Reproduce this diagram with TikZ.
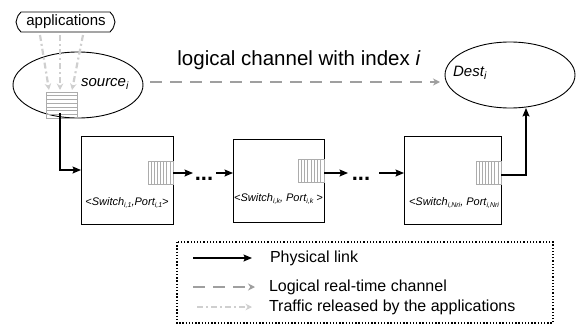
\documentclass[tikz,border=0pt]{standalone}
\usepackage{fontspec}
\setmainfont{Liberation Sans}
\usetikzlibrary{shapes.geometric,arrows.meta,calc}
\newcommand{\mysub}[1]{\raisebox{-0.25ex}{\fontsize{7}{8}\selectfont #1}}
\begin{document}
\begin{tikzpicture}[x=1pt,y=-1pt,
  every node/.style={inner sep=0pt, outer sep=0pt},
  ell/.style={draw, ellipse, line width=0.9pt, minimum width=130pt, minimum height=66pt},
  swbox/.style={draw, line width=1pt},
  qbox/.style={draw=gray!65, line width=0.8pt},
  qline/.style={draw=gray!65, line width=0.7pt},
  phys/.style={line width=1.3pt, -{Stealth[length=8.5pt,width=7pt,inset=1.5pt]}},
  logic/.style={draw=gray!75, line width=2.8pt, dash pattern=on 12pt off 8pt, -{Stealth[length=7pt,width=7pt]}},
  traffic/.style={draw=gray!38, line width=2.2pt, dash pattern=on 6pt off 3pt on 2pt off 3pt, -{Stealth[length=6.5pt,width=6.5pt]}},
  lbl/.style={font=\fontsize{15}{18}\selectfont\itshape},
  swlbl/.style={font=\fontsize{11}{13}\selectfont\itshape},
  leg/.style={font=\fontsize{16}{19}\selectfont, anchor=west},
  dotsn/.style={font=\fontsize{22}{24}\selectfont\bfseries, anchor=base},
]
\useasboundingbox (0,0) rectangle (576,324);

% applications
\node[font=\fontsize{15}{18}\selectfont] (app) at (66,22) {applications};
\draw[line width=0.9pt] (21,12) -- (110,12) .. controls (113,15) .. (115,22) .. controls (113,29) .. (110,32)
  -- (21,32) .. controls (18,29) .. (16,22) .. controls (18,15) .. (21,12);

% source
\node[ell] (src) at (78,85) {};
\node[lbl] (srclbl) at (105,84) {source\textsubscript{i}};
\node[qbox, minimum width=31pt, minimum height=26pt] (sq) at (61.5,105) {};
\foreach \k in {1,...,6} \draw[qline] (46,{92+\k*26/7}) -- (77,{92+\k*26/7});

% traffic arrows
\coordinate (a1s) at (40,35); \coordinate (a1e) at (49,90);
\coordinate (a2s) at (60,35); \coordinate (a2e) at (60,90);
\coordinate (a3s) at (83,35); \coordinate (a3e) at (72,90);
\draw[traffic] (a1s) -- (a1e);
\draw[traffic] (a2s) -- (a2e);
\draw[traffic] (a3s) -- (a3e);

% destination
\node[ell] (dst) at (510,75) {};
\node[lbl] (dstlbl) at (470,73) {Dest\textsubscript{i}};

% logical channel
\node[font=\fontsize{20.5}{24}\selectfont] (lc) at (299,60) {logical channel with index \textit{i}};
\coordinate (lcs) at (150,82); \coordinate (lce) at (440,82);
\draw[logic] (lcs) -- (lce);

% switches
\node[swbox, minimum width=92pt, minimum height=88pt] (sw1) at (127,180) {};
\node[swbox, minimum width=91pt, minimum height=83pt] (sw2) at (278.5,180.5) {};
\node[swbox, minimum width=97pt, minimum height=88pt] (sw3) at (452.5,180) {};
\node[swlbl] (l1) at (127,203) {<Switch\mysub{i,1},Port\mysub{i,1}>};
\node[swlbl] (l2) at (278.5,199) {<Switch\mysub{i,k}, Port\mysub{i,k} >};
\node[swlbl] (l3) at (454,203) {<Switch\mysub{i,Nri}, Port\mysub{i,Nri}};

% port queues
\node[qbox, minimum width=25pt, minimum height=23pt] (q1) at (160.5,172.5) {};
\node[qbox, minimum width=26pt, minimum height=23pt] (q2) at (311,170.5) {};
\node[qbox, minimum width=25pt, minimum height=23pt] (q3) at (488.5,172.5) {};
\foreach \k in {1,...,7} {
  \draw[qline] ({148+\k*25/8},161) -- ({148+\k*25/8},184);
  \draw[qline] ({298+\k*26/8},159) -- ({298+\k*26/8},182);
  \draw[qline] ({476+\k*25/8},161) -- ({476+\k*25/8},184);
}

% physical links
\coordinate (s0) at (60,113);
\coordinate (in1) at (81,170);
\draw[phys] (s0) |- (in1);
\coordinate (o1) at (173,173); \coordinate (o1e) at (193,173);
\node[dotsn] (d1) at (204,180) {...};
\coordinate (i2s) at (216,173); \coordinate (in2) at (233,173);
\draw[phys] (o1) -- (o1e);
\draw[phys] (i2s) -- (in2);
\coordinate (o2) at (324,173); \coordinate (o2e) at (348,173);
\node[dotsn] (d2) at (361,180) {...};
\coordinate (i3s) at (379,173); \coordinate (in3) at (404,173);
\draw[phys] (o2) -- (o2e);
\draw[phys] (i3s) -- (in3);
\coordinate (o3) at (501,175); \coordinate (dstin) at (526,108);
\draw[phys] (o3) -| (dstin);

% legend
\draw[line width=1.3pt, dash pattern=on 1.3pt off 1.9pt] (177,242) rectangle (553,323);
\coordinate (g1s) at (193,258); \coordinate (g1e) at (252,258);
\draw[phys] (g1s) -- (g1e);
\node[leg] (t1) at (270,258) {Physical link};
\coordinate (g2s) at (193,287); \coordinate (g2e) at (255,287);
\draw[logic] (g2s) -- (g2e);
\node[leg] (t2) at (269,287) {Logical real-time channel};
\coordinate (g3s) at (197,307); \coordinate (g3e) at (252,307);
\draw[traffic] (g3s) -- (g3e);
\node[leg] (t3) at (269,307) {Traffic released by the applications};
\end{tikzpicture}
\end{document}
